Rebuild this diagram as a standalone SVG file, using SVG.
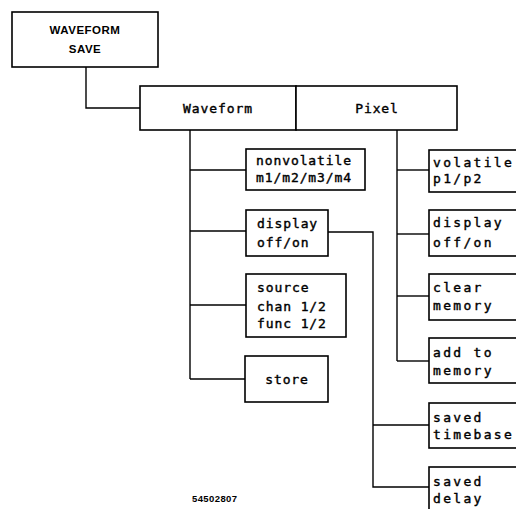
<svg xmlns="http://www.w3.org/2000/svg" width="516" height="509" viewBox="0 0 516 509">
<style>
.box{fill:#fff;stroke:#000;stroke-width:1.6}
.ln{fill:none;stroke:#000;stroke-width:1.4}
.t{font-family:"DejaVu Sans Mono",monospace;font-size:13px;fill:#000;stroke:#000;stroke-width:0.4px;letter-spacing:0.9px}
.r{letter-spacing:2.3px}
.h{font-family:"Liberation Sans",Arial,sans-serif;font-size:11.5px;font-weight:bold;fill:#000;text-anchor:middle;letter-spacing:0.5px}
.c{text-anchor:middle}
</style>
<rect width="516" height="509" fill="#fff"/>
<g id="connectors">
<polyline class="ln" points="86,67 86,108 140,108"/>
<line class="ln" x1="190" y1="130" x2="190" y2="379"/>
<line class="ln" x1="190" y1="170" x2="246" y2="170"/>
<line class="ln" x1="190" y1="231" x2="246" y2="231"/>
<line class="ln" x1="190" y1="305" x2="246" y2="305"/>
<line class="ln" x1="190" y1="379" x2="245" y2="379"/>
<polyline class="ln" points="328,232 373,232 373,487 429,487"/>
<line class="ln" x1="373" y1="425" x2="429" y2="425"/>
<line class="ln" x1="397" y1="130" x2="397" y2="361"/>
<line class="ln" x1="397" y1="170" x2="429" y2="170"/>
<line class="ln" x1="397" y1="234" x2="429" y2="234"/>
<line class="ln" x1="397" y1="296" x2="429" y2="296"/>
<line class="ln" x1="397" y1="361" x2="429" y2="361"/>
</g>
<g id="waveform-save">
<rect class="box" x="12" y="12" width="146" height="55"/>
<text class="h" x="85" y="34">WAVEFORM</text>
<text class="h" x="85" y="53">SAVE</text>
</g>
<g id="waveform">
<rect class="box" x="140" y="86" width="156" height="44"/>
<text class="t c" x="218" y="113">Waveform</text>
</g>
<g id="pixel">
<rect class="box" x="296" y="86" width="161" height="44"/>
<text class="t c" x="377" y="113">Pixel</text>
</g>
<g id="nonvolatile">
<rect class="box" x="246" y="149" width="119" height="41"/>
<text class="t" x="256" y="165">nonvolatile</text>
<text class="t" x="256" y="182">m1/m2/m3/m4</text>
</g>
<g id="display-waveform">
<rect class="box" x="246" y="210" width="82" height="46"/>
<text class="t" x="257" y="228">display</text>
<text class="t" x="257" y="247">off/on</text>
</g>
<g id="source">
<rect class="box" x="246" y="274" width="100" height="63"/>
<text class="t" x="257" y="292">source</text>
<text class="t" x="257" y="311">chan 1/2</text>
<text class="t" x="257" y="328">func 1/2</text>
</g>
<g id="store">
<rect class="box" x="245" y="356" width="83" height="46"/>
<text class="t c" x="287" y="384">store</text>
</g>
<g id="volatile">
<rect class="box" x="429" y="150" width="95" height="42"/>
<text class="t r" x="433" y="167">volatile</text>
<text class="t r" x="433" y="183">p1/p2</text>
</g>
<g id="display-pixel">
<rect class="box" x="429" y="210" width="95" height="46"/>
<text class="t r" x="433" y="227">display</text>
<text class="t r" x="433" y="247">off/on</text>
</g>
<g id="clear-memory">
<rect class="box" x="429" y="274" width="95" height="46"/>
<text class="t r" x="433" y="292">clear</text>
<text class="t r" x="433" y="310">memory</text>
</g>
<g id="add-to-memory">
<rect class="box" x="429" y="338" width="95" height="45"/>
<text class="t r" x="433" y="357">add to</text>
<text class="t r" x="433" y="375">memory</text>
</g>
<g id="saved-timebase">
<rect class="box" x="429" y="403" width="95" height="45"/>
<text class="t r" x="433" y="422">saved</text>
<text class="t r" x="433" y="439">timebase</text>
</g>
<g id="saved-delay">
<rect class="box" x="429" y="467" width="95" height="50"/>
<text class="t r" x="433" y="486">saved</text>
<text class="t r" x="433" y="503">delay</text>
</g>
<text x="192" y="502" style="font-family:'Liberation Sans',Arial,sans-serif;font-size:9.5px;font-weight:bold;letter-spacing:0.4px">54502807</text>
</svg>
